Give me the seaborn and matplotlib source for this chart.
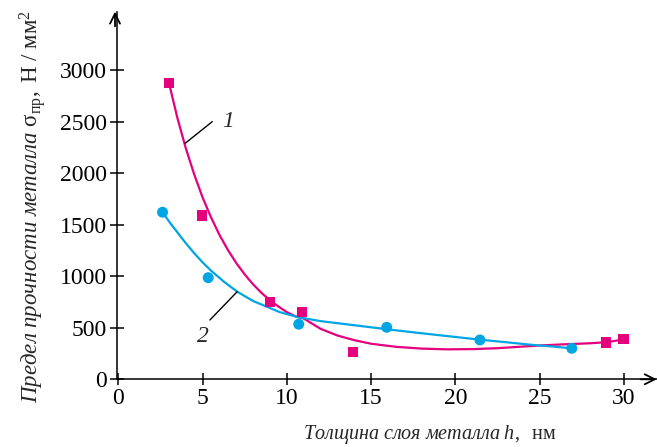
import matplotlib
matplotlib.use("Agg")
import matplotlib.pyplot as plt
import seaborn as sns

# measured points
h_sq = [3.0, 4.97, 8.99, 10.9, 13.94, 28.93, 29.96]
s_sq = [2877, 1590, 754, 651, 262, 356, 389]
h_circ = [2.62, 5.33, 10.7, 15.92, 21.45, 26.9]
s_circ = [1623, 987, 535, 505, 382, 301]

# trend curves
h_fit1 = [3.0, 3.5, 4.0, 4.5, 5.0, 5.5, 6.0, 6.5, 7.0, 7.5, 8.0, 8.5, 9.0, 9.5,
          10.0, 10.5, 11.0, 12.0, 13.0, 14.0, 15.0, 16.5, 18.0, 19.5, 21.0,
          22.5, 24.0, 25.2, 26.5, 28.0, 28.93, 30.2]
s_fit1 = [2880, 2540, 2245, 1990, 1765, 1572, 1402, 1256, 1128, 1018, 921, 838,
          767, 706, 652, 612, 590, 490, 425, 380, 345, 315, 298, 291, 293,
          302, 318, 330, 340, 350, 360, 392]
h_fit2 = [2.62, 3.1, 3.5, 4.0, 4.5, 5.0, 5.5, 6.3, 7.05, 8.0, 9.0, 9.58, 10.7,
          12.0, 13.5, 15.0, 16.5, 18.0, 19.5, 21.45, 23.0, 24.5, 25.5, 26.9]
s_fit2 = [1623, 1512, 1428, 1322, 1225, 1135, 1055, 943, 851, 760, 692, 652,
          602, 565, 535, 505, 475, 447, 420, 385, 360, 335, 322, 301]

magenta = "#E5007E"
cyan = "#00A5E3"

sns.set_style("ticks")
plt.rcParams["font.family"] = ["Liberation Serif", "DejaVu Serif"]
plt.rcParams["mathtext.fontset"] = "custom"
plt.rcParams["mathtext.rm"] = "Liberation Serif"
plt.rcParams["mathtext.it"] = "Liberation Serif:italic"
plt.rcParams["mathtext.bf"] = "Liberation Serif:bold"

fig = plt.figure(figsize=(6.57, 4.47), dpi=100)
ax = fig.add_axes([0.1776, 0.1515, 0.822, 0.8225])

sns.lineplot(x=h_fit1, y=s_fit1, ax=ax, color=magenta, lw=1.6, sort=False)
sns.lineplot(x=h_fit2, y=s_fit2, ax=ax, color=cyan, lw=1.6, sort=False)
sns.scatterplot(x=h_sq, y=s_sq, ax=ax, marker="s", s=55, color=magenta,
                edgecolor="none", zorder=3)
sns.scatterplot(x=h_circ, y=s_circ, ax=ax, marker="o", s=62, color=cyan,
                edgecolor="none", zorder=3)

# curve numbers with leader lines
ax.plot([3.96, 5.57], [2292, 2503], color="black", lw=1.0)
ax.text(6.15, 2503, "1", fontsize=17, fontstyle="italic", va="center", ha="left")
ax.plot([7.05, 5.43], [851, 576], color="black", lw=1.0)
ax.text(5.0, 414, "2", fontsize=17, fontstyle="italic", va="center", ha="center")

ax.set_xlim(-0.1, 31.94)
ax.set_ylim(0, 3572)
ax.set_xticks([0, 5, 10, 15, 20, 25, 30])
ax.set_yticks([0, 500, 1000, 1500, 2000, 2500, 3000])
sns.despine(ax=ax)
for sp in ["left", "bottom"]:
    ax.spines[sp].set_linewidth(1.1)
    ax.spines[sp].set_color("black")
ax.tick_params(axis="x", direction="inout", length=9, width=1.1, labelsize=17, pad=2, colors="black")
ax.tick_params(axis="y", direction="inout", length=10, width=1.1, labelsize=17, pad=2, colors="black")

# axis arrows
ax.annotate("", xy=(1.0, 0), xytext=(0.97, 0), xycoords="axes fraction",
            arrowprops=dict(arrowstyle="->", lw=1.3, color="black", mutation_scale=18,
                            shrinkA=0, shrinkB=0))
ax.annotate("", xy=(-0.0031, 1.0), xytext=(-0.0031, 0.96), xycoords="axes fraction",
            arrowprops=dict(arrowstyle="->", lw=1.3, color="black", mutation_scale=18,
                            shrinkA=0, shrinkB=0))

ax.set_xlabel(r"$\mathit{Толщина\ слоя\ металла\ h},\ \ \mathrm{нм}$", fontsize=14.5)
ax.xaxis.set_label_coords(0.58, -0.149)
ax.xaxis.label.set_va("center")
ax.set_ylabel(r"$\mathit{Предел\ прочности\ металла}\ \mathrm{\sigma}_{\mathrm{пр}},\ \mathrm{Н\ /\ мм}^{2}$",
              fontsize=16.5)
ax.yaxis.set_label_coords(-0.155, 0.47)
ax.yaxis.label.set_va("center")

plt.savefig("out.png", dpi=100)
